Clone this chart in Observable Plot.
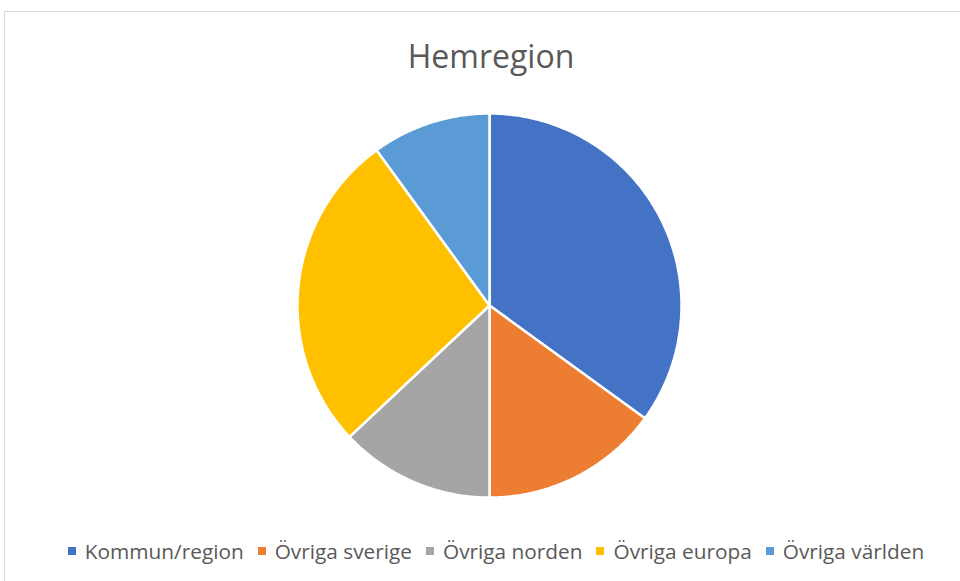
<!DOCTYPE html>
<html>
<head>
<meta charset="utf-8">
<script src="https://cdn.jsdelivr.net/npm/d3@7"></script>
<script src="https://cdn.jsdelivr.net/npm/@observablehq/plot@0.6"></script>
<style>
  html, body { margin: 0; padding: 0; background: #fff; }
  #wrap { position: relative; width: 960px; height: 581px; overflow: hidden; font-family: "Open Sans", sans-serif; }
  #frame { position: absolute; left: 4px; top: 11px; width: 1000px; height: 700px; border: 1px solid #d9d9d9; box-sizing: border-box; }
  #title { position: absolute; left: 0; width: 982px; top: 36px; text-align: center; font-size: 32px; color: #595959; line-height: 40px; }
  #chart { position: absolute; left: 0; top: 100px; }
  #legend { position: absolute; left: 0; width: 992px; top: 537px; display: flex; justify-content: center; }
  .leg-swatches { font-family: "Open Sans", sans-serif !important; font-size: 20.8px !important; color: #595959 !important; min-height: 0 !important; margin: 0 !important; }
  .leg-swatch { margin-right: 14px !important; }
  .leg-swatch:last-child { margin-right: 0 !important; }
  .leg-swatch > svg { margin-right: 9px !important; }
</style>
</head>
<body>
<div id="wrap">
  <div id="frame"></div>
  <div id="title">Hemregion</div>
  <div id="chart"></div>
  <div id="legend"></div>
</div>
<script>
const categories = ["Kommun/region", "Övriga sverige", "Övriga norden", "Övriga europa", "Övriga världen"];
const shares = [35, 15, 13, 27, 10];
const colors = ["#4472C4", "#ED7D31", "#A5A5A5", "#FFC000", "#5B9BD5"];

const arcs = d3.pie().sort(null).value(d => d)(shares);
const pts = [];
arcs.forEach((a, i) => {
  const cat = categories[i];
  pts.push({cat, x: 0, y: 0});
  const n = Math.max(2, Math.ceil((a.endAngle - a.startAngle) / (Math.PI / 360)));
  for (let k = 0; k <= n; k++) {
    const t = a.startAngle + (a.endAngle - a.startAngle) * k / n;
    pts.push({cat, x: Math.sin(t), y: Math.cos(t)});
  }
});

const r = 192, cx = 489, cy = 205, H = 420;
const chart = Plot.plot({
  width: 960,
  height: H,
  marginLeft: cx - r,
  marginRight: 960 - cx - r,
  marginTop: cy - r,
  marginBottom: H - cy - r,
  x: {domain: [-1, 1], axis: null},
  y: {domain: [-1, 1], axis: null},
  color: {domain: categories, range: colors},
  marks: [
    Plot.line(pts, {x: "x", y: "y", z: "cat", fill: "cat", stroke: "white", strokeWidth: 2.5, strokeLinejoin: "miter", curve: "linear-closed"})
  ]
});
document.getElementById("chart").appendChild(chart);

const leg = Plot.legend({
  color: {domain: categories, range: colors},
  legend: "swatches",
  swatchSize: 8,
  className: "leg"
});
document.getElementById("legend").appendChild(leg);
</script>
</body>
</html>
